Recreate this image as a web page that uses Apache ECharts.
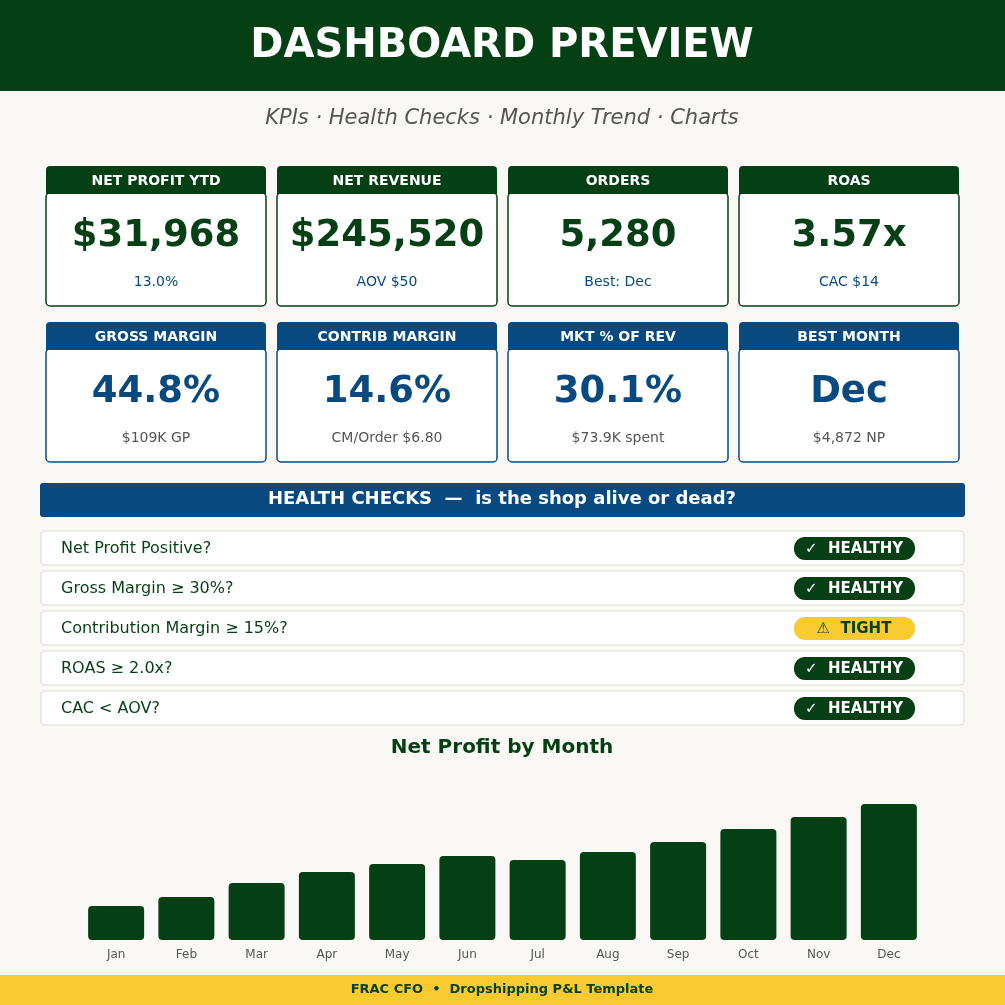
<!DOCTYPE html>
<html><head><meta charset="utf-8">
<script src="https://cdn.jsdelivr.net/npm/echarts@6/dist/echarts.min.js"></script>
<style>html,body{margin:0;padding:0;background:#f9f8f5}#c{width:1005px;height:1005px}</style>
</head><body><div id="c"></div>
<script>
const months = ['Jan','Feb','Mar','Apr','May','Jun','Jul','Aug','Sep','Oct','Nov','Dec'];
const netProfit = [1218,1540,2040,2436,2722,3010,2866,3153,3510,3976,4406,4872];
const kpiTitles = ['NET PROFIT YTD','NET REVENUE','ORDERS','ROAS','GROSS MARGIN','CONTRIB MARGIN','MKT % OF REV','BEST MONTH'];
const kpiValues = ['$31,968','$245,520','5,280','3.57x','44.8%','14.6%','30.1%','Dec'];
const kpiSubs = ['13.0%','AOV $50','Best: Dec','CAC $14','$109K GP','CM/Order $6.80','$73.9K spent','$4,872 NP'];
const checks = ['Net Profit Positive?','Gross Margin ≥ 30%?','Contribution Margin ≥ 15%?','ROAS ≥ 2.0x?','CAC < AOV?'];
const statuses = ['HEALTHY','HEALTHY','TIGHT','HEALTHY','HEALTHY'];

const G='#053f14', B='#084a80', Y='#f9cb30', F='DejaVu Sans';
const g=[];
g.push({type:'rect',shape:{x:0,y:0,width:1005,height:91},style:{fill:G}});
g.push({type:'text',x:502,y:47,style:{text:'DASHBOARD PREVIEW',fill:'#fff',font:'bold 40px '+F,textAlign:'center',textVerticalAlign:'middle'}});
g.push({type:'text',x:502,y:119,style:{text:'KPIs · Health Checks · Monthly Trend · Charts',fill:'#555',font:'italic 21px '+F,textAlign:'center',textVerticalAlign:'middle'}});
const xs=[46,277,508,739];
kpiTitles.forEach((t,i)=>{
  const row=Math.floor(i/4), x=xs[i%4], y=166+row*156, c=row?B:G, vc=row?B:G, sc=row?'#555':B;
  g.push({type:'rect',shape:{x:x,y:y+27,width:220,height:113,r:4},style:{fill:'#fff',stroke:c,lineWidth:1.5}});
  g.push({type:'rect',shape:{x:x,y:y,width:220,height:28,r:[4,4,0,0]},style:{fill:c}});
  g.push({type:'text',x:x+110,y:y+15,style:{text:t,fill:'#fff',font:'bold 14px '+F,textAlign:'center',textVerticalAlign:'middle'}});
  g.push({type:'text',x:x+110,y:y+70,style:{text:kpiValues[i],fill:vc,font:'bold 37px '+F,textAlign:'center',textVerticalAlign:'middle'}});
  g.push({type:'text',x:x+110,y:y+116,style:{text:kpiSubs[i],fill:sc,font:'14px '+F,textAlign:'center',textVerticalAlign:'middle'}});
});
g.push({type:'rect',shape:{x:40,y:483,width:925,height:34,r:3},style:{fill:B}});
g.push({type:'text',x:502,y:499,style:{text:'HEALTH CHECKS  —  is the shop alive or dead?',fill:'#fff',font:'bold 18px '+F,textAlign:'center',textVerticalAlign:'middle'}});
checks.forEach((t,i)=>{
  const y=531+i*40, ok=statuses[i]==='HEALTHY';
  g.push({type:'rect',shape:{x:41,y:y,width:923,height:34,r:4},style:{fill:'#fff',stroke:'#ddd',lineWidth:1.2}});
  g.push({type:'text',x:61,y:y+18,style:{text:t,fill:G,font:'16px '+F,textVerticalAlign:'middle'}});
  g.push({type:'rect',shape:{x:794,y:y+6,width:121,height:23,r:11},style:{fill:ok?G:Y}});
  g.push({type:'text',x:854,y:y+18,style:{text:(ok?'✓  ':'⚠  ')+statuses[i],fill:ok?'#fff':G,font:'bold 15px '+F,textAlign:'center',textVerticalAlign:'middle'}});
});
g.push({type:'text',x:502,y:748,style:{text:'Net Profit by Month',fill:G,font:'bold 20px '+F,textAlign:'center',textVerticalAlign:'middle'}});
g.push({type:'rect',shape:{x:0,y:975,width:1005,height:30},style:{fill:Y}});
g.push({type:'text',x:502,y:990,style:{text:'FRAC CFO  •  Dropshipping P&L Template',fill:G,font:'bold 13px '+F,textAlign:'center',textVerticalAlign:'middle'}});

const chart=echarts.init(document.getElementById('c'));
chart.setOption({
  backgroundColor:'#f9f8f5',animation:false,
  graphic:g,
  grid:{left:81,right:81,top:804,bottom:65},
  xAxis:{type:'category',data:months,axisLine:{show:false},axisTick:{show:false},
    axisLabel:{color:'#555',fontSize:12,fontFamily:F,margin:9}},
  yAxis:{type:'value',min:0,max:4872,show:false,splitLine:{show:false}},
  series:[{type:'bar',data:netProfit,barWidth:56,itemStyle:{color:G,borderRadius:4}}]
});
</script></body></html>
